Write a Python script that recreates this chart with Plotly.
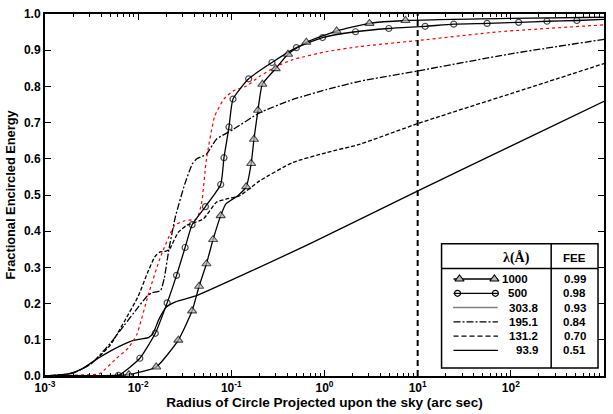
import numpy as np
import plotly.graph_objects as go

# ---------------- data (log10 of radius in arc sec, fractional encircled energy) ----------------
wavelengths = ["1000", "500", "303.8", "195.1", "131.2", "93.9"]
fee_at_10 = ["0.99", "0.98", "0.93", "0.84", "0.70", "0.51"]

logr_1000 = [-3.0, -2.5, -2.10, -1.806, -1.569, -1.421, -1.346, -1.267, -1.196, -1.114, -1.06, -0.93,
             -0.840, -0.787, -0.757, -0.714, -0.667, -0.524, -0.392, -0.195, 0.130, 0.483, 0.869, 2.0, 3.0]
fee_1000 = [0.0, 0.0008, 0.004, 0.025, 0.099, 0.18, 0.248, 0.31, 0.377, 0.443, 0.475, 0.498,
            0.523, 0.587, 0.654, 0.734, 0.806, 0.849, 0.889, 0.922, 0.953, 0.974, 0.982, 0.988, 0.991]
mark_1000 = [0, 0, 1, 1, 1, 1, 1, 1, 1, 1, 0, 0,
             1, 1, 1, 1, 1, 1, 1, 1, 1, 1, 1, 0, 0]

logr_500 = [-3.0, -2.6, -2.212, -1.982, -1.816, -1.689, -1.588, -1.496, -1.421, -1.278, -1.114, -1.079,
            -1.025, -0.982, -0.814, -0.564, -0.302, -0.021, 0.333, 0.690, 1.080, 1.387, 1.745, 2.084,
            2.388, 2.709, 3.0]
fee_500 = [0.0, 0.0005, 0.002, 0.049, 0.118, 0.202, 0.278, 0.355, 0.418, 0.468, 0.529, 0.603,
           0.688, 0.765, 0.821, 0.866, 0.907, 0.935, 0.951, 0.960, 0.966, 0.972, 0.974, 0.977,
           0.980, 0.982, 0.985]
mark_500 = [0, 0, 1, 1, 1, 1, 1, 1, 1, 1, 1, 1,
            1, 1, 1, 1, 1, 1, 1, 1, 1, 1, 1, 1,
            1, 1, 0]

logr_303 = [-3.0, -2.7, -2.5, -2.414, -2.232, -2.107, -2.017, -1.893, -1.767, -1.607, -1.499, -1.374,
            -1.321, -1.267, -1.178, -1.08, -0.982, -0.838, -0.696, -0.517, -0.339, 0.019, 0.376,
            1.009, 1.877, 3.0]
fee_303 = [0.0, 0.002, 0.004, 0.006, 0.049, 0.077, 0.113, 0.223, 0.324, 0.416, 0.429, 0.434,
           0.475, 0.599, 0.718, 0.765, 0.787, 0.801, 0.828, 0.855, 0.874, 0.896, 0.910,
           0.927, 0.951, 0.970]

logr_195 = [-3.0, -2.7, -2.5, -2.3, -2.15, -2.0, -1.9, -1.85, -1.76, -1.72, -1.67, -1.6, -1.5,
            -1.42, -1.37, -1.27, -1.16, -0.982, -0.696, -0.339, 0.019, 0.376, 1.008, 2.0, 3.0]
fee_195 = [0.0, 0.008, 0.035, 0.09, 0.14, 0.19, 0.222, 0.23, 0.236, 0.27, 0.35, 0.44, 0.53,
           0.585, 0.60, 0.612, 0.654, 0.681, 0.727, 0.764, 0.791, 0.814, 0.843, 0.89, 0.93]

logr_131 = [-3.0, -2.7, -2.5, -2.3, -2.15, -2.0, -1.9, -1.82, -1.77, -1.70, -1.66, -1.57, -1.48,
            -1.3, -1.16, -1.05, -0.91, -0.696, -0.339, 0.019, 0.376, 1.008, 2.0, 3.0]
fee_131 = [0.0, 0.008, 0.035, 0.085, 0.15, 0.22, 0.285, 0.33, 0.342, 0.345, 0.352, 0.397, 0.416,
           0.434, 0.48, 0.489, 0.498, 0.539, 0.59, 0.617, 0.64, 0.698, 0.78, 0.863]

logr_939 = [-3.0, -2.75, -2.6, -2.43, -2.27, -2.15, -2.06, -1.95, -1.89, -1.84, -1.78, -1.70,
            -1.6, -1.374, -0.16, 1.008, 2.0, 3.0]
fee_939 = [0.0, 0.006, 0.02, 0.049, 0.073, 0.088, 0.098, 0.103, 0.106, 0.118, 0.155, 0.19,
           0.205, 0.222, 0.365, 0.512, 0.635, 0.759]

ref_radius = 10.0  # arc sec, dashed vertical line

x_tickvals = [1e-3, 1e-2, 1e-1, 1e0, 1e1, 1e2, 1e3]
x_ticktext = ["10<sup>-3</sup>", "10<sup>-2</sup>", "10<sup>-1</sup>", "10<sup>0</sup>",
              "10<sup>1</sup>", "10<sup>2</sup>", "10<sup>3</sup>"]
y_tickvals = [0.0, 0.1, 0.2, 0.3, 0.4, 0.5, 0.6, 0.7, 0.8, 0.9, 1.0]

# ---------------- styles ----------------
FONT = "Liberation Sans, Arial, sans-serif"
LW = 1.3
styles = {
    "1000": dict(color="black", dash="solid"),
    "500": dict(color="black", dash="solid"),
    "303.8": dict(color="red", dash="dot"),
    "195.1": dict(color="black", dash="7px,2px,2px,2px"),
    "131.2": dict(color="black", dash="4px,2px"),
    "93.9": dict(color="black", dash="solid"),
}

fig = go.Figure()

def r(logs):
    return 10 ** np.array(logs)

# curves without markers
for name, lx, ly in [("93.9", logr_939, fee_939), ("131.2", logr_131, fee_131),
                     ("195.1", logr_195, fee_195), ("303.8", logr_303, fee_303)]:
    fig.add_trace(go.Scatter(x=r(lx), y=ly, mode="lines", showlegend=False,
                             line=dict(width=LW if name != "303.8" else 1.2,
                                       shape="spline", smoothing=0.5, **styles[name])))

# marked curves
fig.add_trace(go.Scatter(
    x=r(logr_500), y=fee_500, mode="lines+markers", showlegend=False,
    line=dict(width=LW, shape="spline", smoothing=0.5, color="black"),
    marker=dict(symbol="circle-open", size=[6 * m for m in mark_500], color="black",
                line=dict(width=1.2, color="black"))))
fig.add_trace(go.Scatter(
    x=r(logr_1000), y=fee_1000, mode="lines+markers", showlegend=False,
    line=dict(width=LW, shape="spline", smoothing=0.5, color="black"),
    marker=dict(symbol="triangle-up", size=[8 * m for m in mark_1000], color="#b5b5b5",
                line=dict(width=1.1, color="black"))))

# dashed vertical reference line at 10 arcsec
fig.add_trace(go.Scatter(x=[ref_radius, ref_radius], y=[0, 1], mode="lines", showlegend=False,
                         line=dict(color="black", width=2, dash="6px,4px")))

# ---------------- custom legend table (plot-area fraction coordinates) ----------------
box_x0, box_x1, box_y0, box_y1 = 0.7094, 0.9893, 0.022, 0.3654
col_div = 0.9055
head_div = 0.2967
row_y = [0.2679, 0.2285, 0.1891, 0.1497, 0.1103, 0.0709]
label_right = [0.8681, 0.8663, 0.8859, 0.8859, 0.8859, 0.8859]
samp_x0, samp_x1 = 0.7308, 0.8102
fee_x = 0.9478

shapes = [
    dict(type="rect", xref="paper", yref="paper", x0=box_x0, x1=box_x1, y0=box_y0, y1=box_y1,
         line=dict(color="black", width=1.5), layer="above"),
    dict(type="line", xref="paper", yref="paper", x0=box_x0, x1=box_x1, y0=head_div, y1=head_div,
         line=dict(color="black", width=1.5), layer="above"),
    dict(type="line", xref="paper", yref="paper", x0=col_div, x1=col_div, y0=box_y0, y1=box_y1,
         line=dict(color="black", width=1.5), layer="above"),
]

leg_dash = {"1000": "solid", "500": "solid", "303.8": "1px,1px", "195.1": "7px,2px,2px,2px",
            "131.2": "5px,3px", "93.9": "solid"}
for i, name in enumerate(wavelengths):
    yy = row_y[i]
    fig.add_trace(go.Scatter(x=[samp_x0, samp_x1], y=[yy, yy], mode="lines", showlegend=False,
                             xaxis="x2", yaxis="y2", hoverinfo="skip",
                             line=dict(color="black", width=LW if name != "303.8" else 1.4,
                                       dash=leg_dash[name])))
fig.add_trace(go.Scatter(x=[0.7415, 0.8039], y=[row_y[0], row_y[0]], mode="markers", showlegend=False,
                         xaxis="x2", yaxis="y2", hoverinfo="skip",
                         marker=dict(symbol="triangle-up", size=8, color="#b5b5b5",
                                     line=dict(width=1.1, color="black"))))
fig.add_trace(go.Scatter(x=[0.7380, 0.8057], y=[row_y[1], row_y[1]], mode="markers", showlegend=False,
                         xaxis="x2", yaxis="y2", hoverinfo="skip",
                         marker=dict(symbol="circle-open", size=6, color="black",
                                     line=dict(width=1.2, color="black"))))

annotations = []
for i, name in enumerate(wavelengths):
    annotations.append(dict(xref="paper", yref="paper", x=label_right[i], y=row_y[i], text=name,
                            xanchor="right", yanchor="middle", showarrow=False,
                            font=dict(family=FONT, size=11.5, color="black", weight="bold")))
    annotations.append(dict(xref="paper", yref="paper", x=fee_x, y=row_y[i], text=fee_at_10[i],
                            xanchor="center", yanchor="middle", showarrow=False,
                            font=dict(family=FONT, size=11.5, color="black", weight="bold")))
annotations.append(dict(xref="paper", yref="paper", x=0.8438, y=0.327, text="λ(Å)",
                        xanchor="center", yanchor="middle", showarrow=False,
                        font=dict(family="Liberation Serif, serif", size=14, color="black",
                                  weight="bold")))
annotations.append(dict(xref="paper", yref="paper", x=fee_x, y=0.327, text="FEE",
                        xanchor="center", yanchor="middle", showarrow=False,
                        font=dict(family=FONT, size=11.5, color="black", weight="bold")))

fig.update_layout(
    width=613, height=414,
    margin=dict(l=45, r=7, t=14, b=36),
    paper_bgcolor="white", plot_bgcolor="white",
    font=dict(family=FONT, size=12, color="black", weight="bold"),
    showlegend=False,
    shapes=shapes,
    annotations=annotations,
    xaxis=dict(type="log", range=[-3, 3], tickvals=x_tickvals, ticktext=x_ticktext,
               ticks="inside", ticklen=6, tickwidth=1, tickcolor="black",
               minor=dict(ticks="inside", ticklen=3, tickcolor="black", dtick="D1", showgrid=False),
               showline=True, linewidth=2, linecolor="black", mirror="ticks",
               showgrid=False, zeroline=False,
               tickfont=dict(family=FONT, size=12, color="black", weight="bold"),
               title=dict(text="Radius of Circle Projected upon the sky (arc sec)", standoff=2,
                          font=dict(family=FONT, size=13.6, color="black", weight="bold"))),
    yaxis=dict(range=[0, 1], tickvals=y_tickvals, tickformat=".1f",
               ticks="inside", ticklen=6, tickwidth=1, tickcolor="black",
               showline=True, linewidth=2, linecolor="black", mirror="ticks",
               showgrid=False, zeroline=False,
               tickfont=dict(family=FONT, size=12, color="black", weight="bold"),
               title=dict(text="Fractional Encircled Energy", standoff=5,
                          font=dict(family=FONT, size=12.8, color="black", weight="bold"))),
    xaxis2=dict(domain=[0, 1], range=[0, 1], overlaying="x", anchor="y2", visible=False,
                fixedrange=True),
    yaxis2=dict(domain=[0, 1], range=[0, 1], overlaying="y", anchor="x2", visible=False,
                fixedrange=True),
)

fig.write_html("out.html")
